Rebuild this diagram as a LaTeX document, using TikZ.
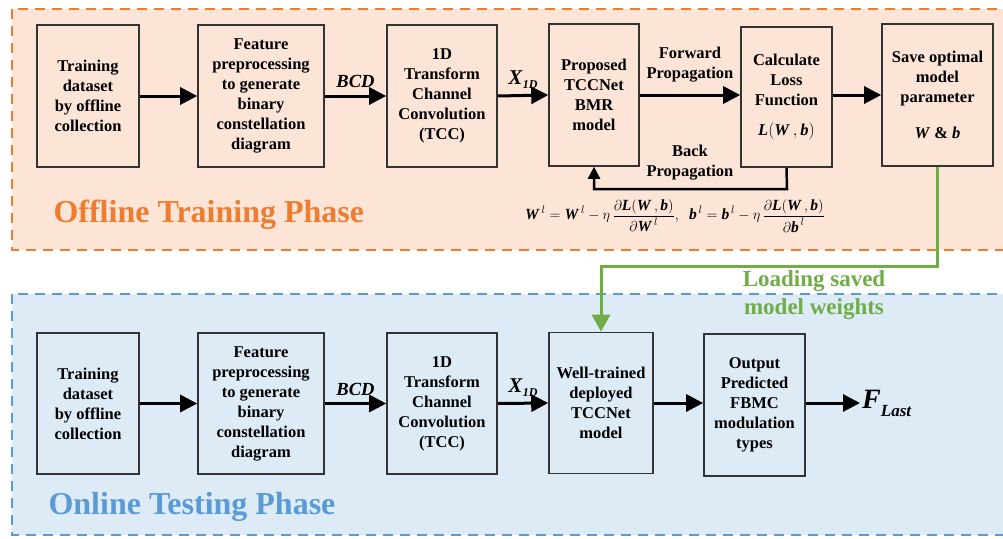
\documentclass[tikz,border=0pt]{standalone}
\usepackage{amsmath}
\usepackage{fontspec}
\setmainfont{Liberation Serif}
\usetikzlibrary{arrows.meta}
\definecolor{orgfill}{HTML}{FCE4D6}
\definecolor{orgline}{HTML}{ED7D31}
\definecolor{bluefill}{HTML}{DDEBF7}
\definecolor{blueline}{HTML}{5B9BD5}
\definecolor{grn}{HTML}{70AD47}
\newcommand{\bim}[1]{\textbf{\textit{#1}}}
\begin{document}
\begin{tikzpicture}[x=1pt,y=-1pt,
  blk/.style={draw=black!80, line width=1.6pt, align=center, inner sep=0pt,
    font=\bfseries\fontsize{16.5}{20}\selectfont},
  arr/.style={line width=3pt, -{Triangle[length=17pt,width=17pt]}},
  lbl/.style={align=center, font=\bfseries\fontsize{16.5}{20}\selectfont},
  phase/.style={anchor=west, font=\bfseries\fontsize{32}{36}\selectfont},
  zone/.style={line width=2pt, dash pattern=on 10pt off 7pt}]
\clip (0,0) rectangle (1003,538);
\fill[white] (0,0) rectangle (1003,538);
% zones
\draw[zone, draw=orgline, fill=orgfill] (12,9) rectangle (1020,250);
\draw[zone, draw=blueline, fill=bluefill] (12,294) rectangle (1020,535);
\node[phase, text=orgline] (ph1) at (50,215) {Offline Training Phase};
\node[phase, text=blueline] (ph2) at (45,507) {Online Testing Phase};
% top row
\node[blk, minimum width=102pt, minimum height=142pt] (t1) at (88,96) {Training\\dataset\\by offline\\collection};
\node[blk, minimum width=126pt, minimum height=142pt] (t2) at (261,96) {Feature\\preprocessing\\to generate\\binary\\constellation\\diagram};
\node[blk, minimum width=110pt, minimum height=142pt] (t3) at (442,96) {1D\\Transform\\Channel\\Convolution\\(TCC)};
\node[blk, minimum width=90pt, minimum height=142pt] (t4) at (594,95) {Proposed\\TCCNet\\BMR\\model};
\node[blk, minimum width=91pt, minimum height=140pt] (t5) at (786.5,97) {Calculate\\Loss\\Function\\[10pt]$\textit{\textbf{L}}(\bim{W}\,,\bim{b})$};
\node[blk, minimum width=111pt, minimum height=142pt] (t6) at (937.5,95) {Save optimal\\model\\parameter\\[16pt]\bim{W} \& \bim{b}};
% bottom row
\node[blk, minimum width=102pt, minimum height=141pt] (u1) at (88,403.5) {Training\\dataset\\by offline\\collection};
\node[blk, minimum width=126pt, minimum height=141pt] (u2) at (261,403.5) {Feature\\preprocessing\\to generate\\binary\\constellation\\diagram};
\node[blk, minimum width=110pt, minimum height=141pt] (u3) at (442,403.5) {1D\\Transform\\Channel\\Convolution\\(TCC)};
\node[blk, minimum width=104pt, minimum height=141pt] (u4) at (601,403) {Well-trained\\deployed\\TCCNet\\model};
\node[blk, minimum width=101pt, minimum height=142pt] (u5) at (754.5,405) {Output\\Predicted\\FBMC\\modulation\\types};
\node[anchor=west, inner sep=2pt, font=\fontsize{28}{30}\selectfont] (fl) at (860,403) {\bim{F}\raisebox{-8pt}{\fontsize{17}{18}\selectfont\bim{Last}}};
% top arrows
\draw[arr] (t1.east) -- (t2.west);
\draw[arr] (t2.east) -- node[above=3pt, font=\fontsize{18.5}{20}\selectfont]{\bim{BCD}} (t3.west);
\draw[arr] (t3.east) -- node[above=2pt, font=\fontsize{21}{22}\selectfont]{\bim{X}\raisebox{-4pt}{\fontsize{12}{13}\selectfont\bim{1D}}} (t4.west);
\draw[arr] (t4.east) -- (t4.east -| t5.west);
\draw[arr] (t5.east |- t6.west) -- (t6.west);
\node[lbl] (fwd) at (690,65) {Forward\\Propagation};
\node[lbl] (bck) at (690,163) {Back\\Propagation};
\coordinate (bp1) at (787,189);
\draw[line width=2.5pt, -{Triangle[length=12pt,width=12pt]}] (t5.south) -- (bp1) -| (t4.south);
% formula
\node[font=\fontsize{15.5}{17}\selectfont] (eq) at (675,216) {$\bim{W}^{\,l}=\bim{W}^{\,l}-\eta\,\dfrac{\partial\textit{\textbf{L}}(\bim{W}\,,\bim{b})}{\partial\bim{W}^{\,l}},\;\;\bim{b}^{\,l}=\bim{b}^{\,l}-\eta\,\dfrac{\partial\textit{\textbf{L}}(\bim{W}\,,\bim{b})}{\partial\bim{b}^{\,l}}$};
% bottom arrows
\draw[arr] (u1.east) -- (u2.west);
\draw[arr] (u2.east) -- node[above=3pt, font=\fontsize{18.5}{20}\selectfont]{\bim{BCD}} (u3.west);
\draw[arr] (u3.east) -- node[above=2pt, font=\fontsize{21}{22}\selectfont]{\bim{X}\raisebox{-4pt}{\fontsize{12}{13}\selectfont\bim{1D}}} (u4.west);
\draw[arr] (u4.east) -- (u4.east -| u5.west);
\draw[arr] (u5.east |- fl.west) -- (fl.west);
% green loading path
\coordinate (g1) at (937.5,266);
\draw[line width=3pt, draw=grn, -{Triangle[length=17pt,width=18pt]}, color=grn] (t6.south) -- (g1) -| (u4.north);
\node[align=center, text=grn, font=\bfseries\fontsize{23}{28}\selectfont] (ld) at (814,295) {Loading saved\\model weights};
\end{tikzpicture}
\end{document}
